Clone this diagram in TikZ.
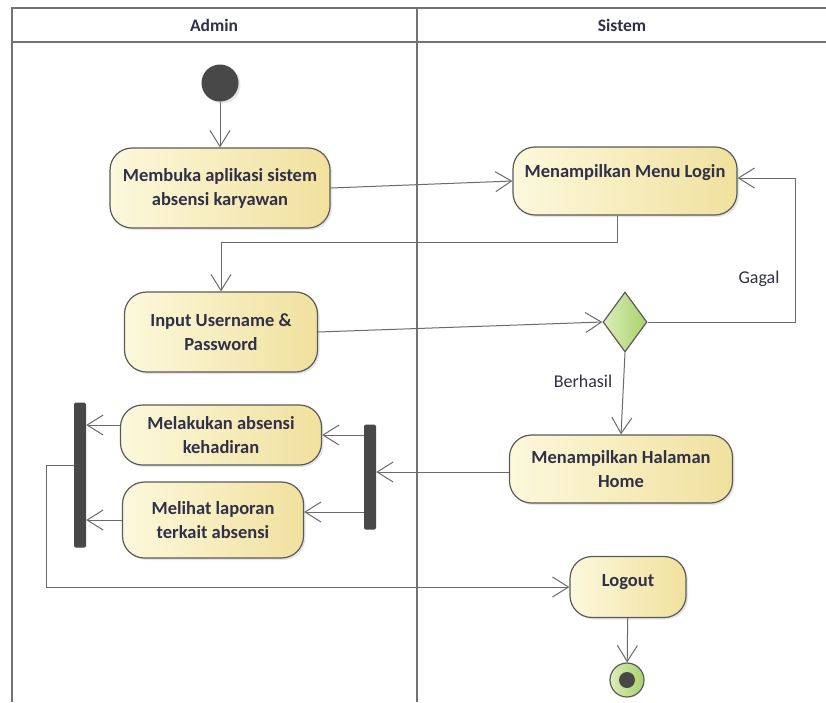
\documentclass[tikz,border=0pt]{standalone}
\usepackage{fontspec}
\setmainfont{Carlito}
\usepackage{xcolor}
\usetikzlibrary{positioning,calc,shapes.geometric,arrows.meta,shadows}

\definecolor{actleft}{HTML}{FCF8DC}
\definecolor{actright}{HTML}{F1E19E}
\definecolor{edge}{HTML}{5A5A5A}
\definecolor{ink}{HTML}{303048}
\definecolor{decleft}{HTML}{DCEDB8}
\definecolor{decright}{HTML}{A9D16C}

\begin{document}
\begin{tikzpicture}[x=1pt, y=-1pt,
    activity/.style={draw=edge, line width=1.2pt, rounded corners=22pt,
        left color=actleft, right color=actright, align=center, inner sep=0pt,
        text=ink, font=\fontsize{18.5}{24}\selectfont\bfseries,
        drop shadow={opacity=0.2, shadow xshift=2pt, shadow yshift=-2pt}},
    bar/.style={fill=edge!80!black, rounded corners=1.5pt, minimum width=12pt, inner sep=0pt},
    flow/.style={draw=edge!90, line width=1pt, -{Straight Barb[length=16pt, width=20pt, line width=1pt]}},
    lane/.style={draw=gray!90!black, line width=2pt},
    lanetitle/.style={font=\fontsize{17.5}{20}\selectfont\bfseries, text=ink},
    guard/.style={font=\fontsize{18}{20}\selectfont, text=ink}]

    \useasboundingbox (0,0) rectangle (826,702);
    \fill[white] (0,0) rectangle (826,702);

    % swimlanes
    \draw[lane] (12,702) -- (12,8) -- (830,8);
    \draw[lane] (12,42) -- (830,42);
    \draw[lane] (417,8) -- (417,702);
    \node[lanetitle] (admin) at (214,25) {Admin};
    \node[lanetitle] (sistem) at (622,25) {Sistem};

    \node[circle, fill=edge!80!black, minimum size=37pt, inner sep=0pt,
          drop shadow={opacity=0.2, shadow xshift=2pt, shadow yshift=-2pt}] (start) at (220,83) {};

    \node[activity, minimum width=220pt, minimum height=80pt] (open) at (220,188) {Membuka aplikasi sistem\\absensi karyawan};
    \node[activity, minimum width=224pt, minimum height=68pt] (login) at (625,181) {\raisebox{8pt}[\height][\depth]{Menampilkan Menu Login}};
    \node[activity, minimum width=193pt, minimum height=80pt] (input) at (221,332) {Input Username \&\\Password};
    \node[diamond, draw=edge, line width=1.2pt, left color=decleft, right color=decright,
          minimum width=44pt, minimum height=60pt, inner sep=0pt] (dec) at (625,322) {};
    \node[activity, minimum width=223pt, minimum height=68pt] (home) at (621,469) {Menampilkan Halaman\\Home};
    \node[bar, minimum height=105pt] (fork) at (370,477) {};
    \node[activity, minimum width=201pt, minimum height=60pt] (attend) at (221,435) {Melakukan absensi\\kehadiran};
    \node[activity, minimum width=181pt, minimum height=76pt] (report) at (213,520) {Melihat laporan\\terkait absensi};
    \node[bar, minimum height=145pt] (join) at (80,475) {};
    \node[activity, minimum width=116pt, minimum height=61pt] (logout) at (628,587) {\raisebox{5pt}[\height][\depth]{Logout}};
    \node[circle, draw=edge, line width=1.2pt, left color=decleft, right color=decright,
          minimum size=34pt, inner sep=0pt] (final) at (627,680) {};
    \fill[edge!80!black] (final.center) circle (8pt);

    \draw[flow] (start) -- (open);
    \draw[flow] (open.east) -- (login.west);
    \draw[flow] ([xshift=-8pt]login.south) -- ++(0,27) -| (input.north);
    \draw[flow] (input.east) -- (dec.west);
    \draw[flow] (dec.east) -- ++(148,0) |- ([yshift=3pt]login.east);
    \node[guard] (gagal) at (759,279) {Gagal};
    \draw[flow] (dec.south) -- (home.north);
    \node[guard] (berhasil) at (583,381) {Berhasil};
    \draw[flow] ([yshift=-3pt]home.west) -- ([yshift=-3pt]home.west -| fork.east);
    \draw[flow] (fork.west |- attend.east) -- (attend.east);
    \draw[flow] ([yshift=8pt]fork.west |- report.east) -- ([yshift=8pt]report.east);
    \draw[flow] ([yshift=10pt]attend.west) -- ([yshift=10pt]attend.west -| join.east);
    \draw[flow] (report.west) -- (report.west -| join.east);
    \draw[flow] ([yshift=10pt]join.west) -- ++(-27,0) |- (logout.west);
    \draw[flow] (logout) -- (final);
\end{tikzpicture}
\end{document}
